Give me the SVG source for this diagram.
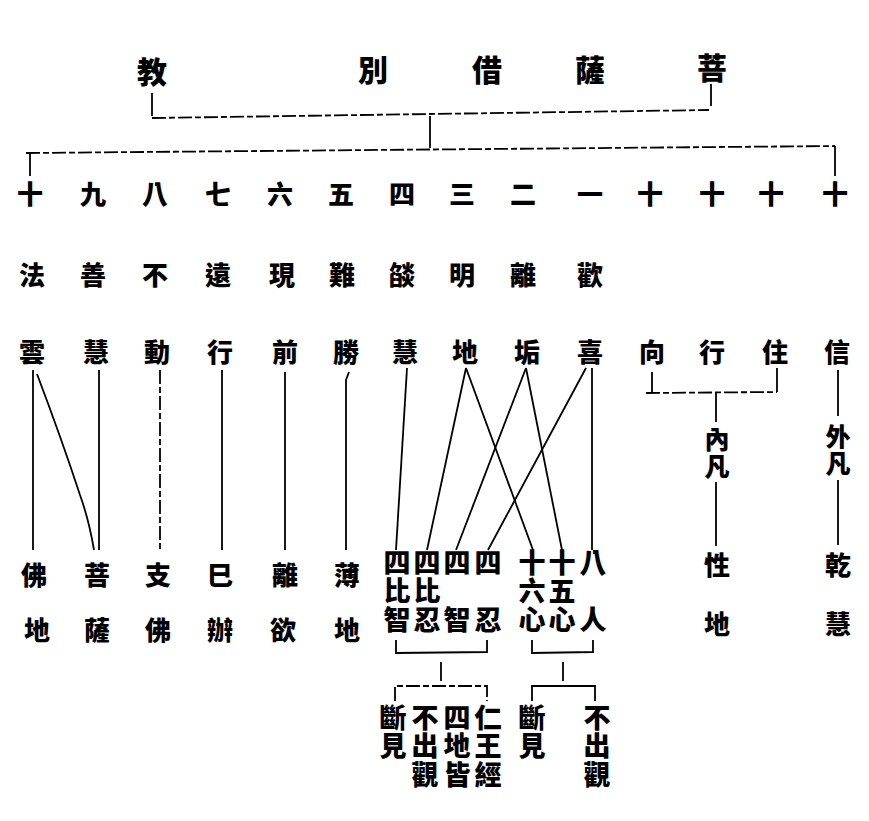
<svg xmlns="http://www.w3.org/2000/svg" width="869" height="821" viewBox="0 0 869 821">
<style>
text{font-family:"Noto Sans CJK TC","Noto Sans CJK SC",sans-serif;font-weight:900;fill:#000;text-anchor:middle;dominant-baseline:central}
.t{font-size:30px}
.m{font-size:26px}
.vt{writing-mode:vertical-rl;text-anchor:start;font-size:27px;letter-spacing:1.5px}
.vf{writing-mode:vertical-rl;text-anchor:start;font-size:25px;letter-spacing:2px}
.c line,.c path,.c polyline{stroke:#000;stroke-width:1.8;fill:none}
.c .d{stroke-dasharray:14 3 6 3}
</style>
<rect width="869" height="821" fill="#fff"/>
<g id="title">
<text class="t" x="152" y="70">教</text>
<text class="t" x="373" y="68">別</text>
<text class="t" x="487" y="68">借</text>
<text class="t" x="590" y="68">薩</text>
<text class="t" x="712" y="66">菩</text>
</g>
<g class="c" id="connectors">
<line x1="152" y1="93" x2="152" y2="116"/>
<line x1="711" y1="84" x2="711" y2="106"/>
<line class="d" x1="152" y1="118" x2="709" y2="110"/>
<line x1="430" y1="116" x2="430" y2="148"/>
<line class="d" x1="26" y1="153" x2="835" y2="146"/>
<line x1="30" y1="153" x2="30" y2="176"/>
<line x1="835" y1="146" x2="835" y2="176"/>
<line x1="33" y1="370" x2="33" y2="550"/>
<path d="M37,374 Q62,440 80,495 Q89,520 94,550"/>
<line x1="99" y1="370" x2="99" y2="550"/>
<line class="d" x1="160" y1="370" x2="160" y2="550"/>
<line x1="222" y1="370" x2="222" y2="550"/>
<line x1="285" y1="372" x2="285" y2="550"/>
<path d="M349,372 L346,380 L346,550"/>
<line x1="407" y1="368" x2="396" y2="550"/>
<line x1="466" y1="368" x2="427" y2="550"/>
<line x1="466" y1="368" x2="533" y2="550"/>
<line x1="526" y1="368" x2="456" y2="550"/>
<line x1="526" y1="368" x2="562" y2="550"/>
<line x1="586" y1="368" x2="488" y2="550"/>
<line x1="592" y1="368" x2="592" y2="550"/>
<line x1="652" y1="372" x2="652" y2="393"/>
<line x1="777" y1="368" x2="777" y2="392"/>
<line class="d" x1="646" y1="393" x2="777" y2="392"/>
<line x1="716" y1="393" x2="716" y2="422"/>
<line x1="716" y1="482" x2="716" y2="546"/>
<line x1="838" y1="370" x2="838" y2="416"/>
<line x1="838" y1="480" x2="838" y2="545"/>
<polyline points="396,640 396,653 487,652 487,640"/>
<line x1="441" y1="662" x2="441" y2="681"/>
<polyline class="d" points="395,701 395,686 487,686 487,701"/>
<polyline points="532,640 532,653 593,652 593,640"/>
<line x1="563" y1="662" x2="563" y2="681"/>
<polyline points="532,701 532,686 595,686 595,701"/>
</g>
<g id="row-numbers">
<text class="m" x="30" y="192">十</text>
<text class="m" x="93" y="192">九</text>
<text class="m" x="155" y="192">八</text>
<text class="m" x="218" y="192">七</text>
<text class="m" x="280" y="192">六</text>
<text class="m" x="341" y="192">五</text>
<text class="m" x="402" y="192">四</text>
<text class="m" x="462" y="192">三</text>
<text class="m" x="523" y="192">二</text>
<text class="m" x="590" y="192">一</text>
<text class="m" x="650" y="192">十</text>
<text class="m" x="712" y="192">十</text>
<text class="m" x="771" y="192">十</text>
<text class="m" x="835" y="192">十</text>
</g>
<g id="g1"><text class="m" x="32" y="273">法</text><text class="m" x="32" y="350">雲</text></g>
<g id="g2"><text class="m" x="93" y="273">善</text><text class="m" x="96" y="350">慧</text></g>
<g id="g3"><text class="m" x="155" y="273">不</text><text class="m" x="157" y="350">動</text></g>
<g id="g4"><text class="m" x="218" y="273">遠</text><text class="m" x="220" y="350">行</text></g>
<g id="g5"><text class="m" x="282" y="273">現</text><text class="m" x="285" y="350">前</text></g>
<g id="g6"><text class="m" x="342" y="273">難</text><text class="m" x="346" y="350">勝</text></g>
<g id="g7"><text class="m" x="402" y="273">燄</text><text class="m" x="405" y="350">慧</text></g>
<g id="g8"><text class="m" x="462" y="273">明</text><text class="m" x="465" y="350">地</text></g>
<g id="g9"><text class="m" x="523" y="273">離</text><text class="m" x="527" y="350">垢</text></g>
<g id="g10"><text class="m" x="590" y="273">歡</text><text class="m" x="590" y="350">喜</text></g>
<g id="g11"><text class="m" x="652" y="350">向</text></g>
<g id="g12"><text class="m" x="712" y="350">行</text></g>
<g id="g13"><text class="m" x="775" y="350">住</text></g>
<g id="g14"><text class="m" x="837" y="350">信</text></g>
<g id="neifan"><text class="vf" x="717" y="427">內凡</text></g>
<g id="waifan"><text class="vf" x="838" y="424">外凡</text></g>
<g id="b1"><text class="m" x="34" y="573">佛</text><text class="m" x="37" y="628">地</text></g>
<g id="b2"><text class="m" x="97" y="573">菩</text><text class="m" x="97" y="628">薩</text></g>
<g id="b3"><text class="m" x="158" y="573">支</text><text class="m" x="158" y="628">佛</text></g>
<g id="b4"><text class="m" x="220" y="573">巳</text><text class="m" x="220" y="628">辦</text></g>
<g id="b5"><text class="m" x="285" y="573">離</text><text class="m" x="283" y="628">欲</text></g>
<g id="b6"><text class="m" x="347" y="573">薄</text><text class="m" x="347" y="628">地</text></g>
<g id="b7"><text class="vt" x="397" y="549">四比智</text></g>
<g id="b8"><text class="vt" x="427" y="549">四比忍</text></g>
<g id="b9"><text class="vt" x="457" y="549">四　智</text></g>
<g id="b10"><text class="vt" x="488" y="549">四　忍</text></g>
<g id="b11"><text class="vt" x="532" y="549">十六心</text></g>
<g id="b12"><text class="vt" x="562" y="549">十五心</text></g>
<g id="b13"><text class="vt" x="593" y="549">八　人</text></g>
<g id="b14"><text class="m" x="717" y="563">性</text><text class="m" x="717" y="622">地</text></g>
<g id="b15"><text class="m" x="838" y="563">乾</text><text class="m" x="838" y="622">慧</text></g>
<g id="c1"><text class="vt" x="393" y="704">斷見</text></g>
<g id="c2"><text class="vt" x="425" y="704">不出觀</text></g>
<g id="c3"><text class="vt" x="457" y="704">四地皆</text></g>
<g id="c4"><text class="vt" x="488" y="704">仁王經</text></g>
<g id="c5"><text class="vt" x="532" y="704">斷見</text></g>
<g id="c6"><text class="vt" x="597" y="704">不出觀</text></g>
</svg>
